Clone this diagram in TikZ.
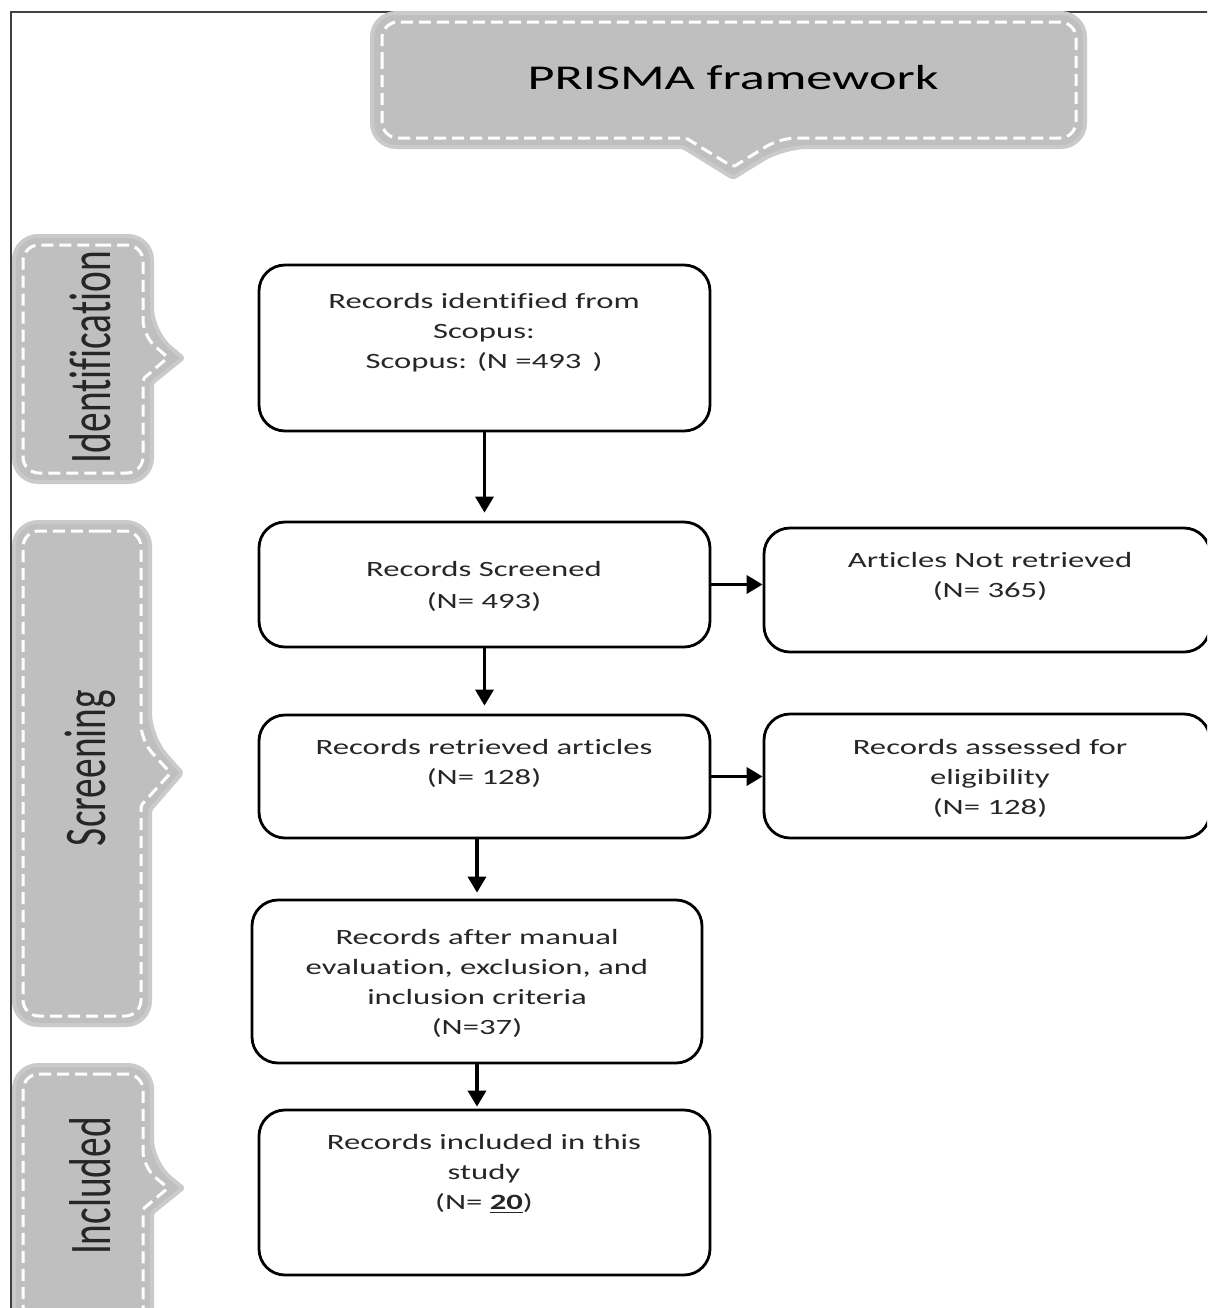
\documentclass[tikz,border=0pt]{standalone}
\usepackage{fontspec}
\setmainfont{Carlito}[FakeStretch=1.5,Ligatures=NoCommon]
\newfontfamily\tabfont{Carlito}[FakeStretch=0.667,Ligatures=NoCommon]
\usetikzlibrary{arrows.meta,positioning}
\definecolor{tabgray}{HTML}{BFBFBF}
\definecolor{tabedge}{HTML}{CACACA}
\definecolor{framegray}{HTML}{404040}
\definecolor{inkgray}{HTML}{262626}

\begin{document}
\begin{tikzpicture}[x=0.5pt,y=-0.5pt,
  tabbg/.style={fill=tabgray,draw=tabedge,line width=2pt,line join=round},
  tabdash/.style={draw=white,line width=1.5pt,dash pattern=on 6pt off 3pt},
  procbox/.style={draw=black,line width=1.4pt,rounded corners=13pt,inner sep=0pt},
  boxtext/.style={align=center,text=inkgray,font=\fontsize{10.9}{15}\selectfont},
  tabtext/.style={rotate=90,text=black!85,font=\tabfont\fontsize{29.5}{30}\selectfont},
  flow/.style={line width=1.8pt,-{Triangle[width=9pt,length=8pt]}}]
\clip (0,0) rectangle (1207,1308);
% frame
\draw[framegray,line width=1pt] (11,1320) -- (11,12) -- (1220,12);

% title tab
\draw[tabbg] (372,80) [rounded corners=12pt] -- (372,13) -- (1085,13) -- (1085,147) -- (783,147) [rounded corners=1pt] -- (733,178) -- (683,147) [rounded corners=12pt] -- (372,147) -- cycle;
\draw[tabdash] (382,80) [rounded corners=8pt] -- (382,22) -- (1076,22) -- (1076,138) -- (780,138) [rounded corners=1pt] -- (733,167) -- (686,138) [rounded corners=8pt] -- (382,138) -- cycle;
\node[font=\fontsize{17.4}{20}\selectfont] (title) at (733,78) {PRISMA framework};

% side tabs
\draw[tabbg] (83,236) [rounded corners=12pt] -- (152,236) -- (152,332) [rounded corners=1pt] -- (183,358) -- (152,383) [rounded corners=12pt] -- (152,482) -- (14,482) -- (14,236) -- cycle;
\draw[tabdash] (83,245) [rounded corners=8pt] -- (143,245) -- (143,336) [rounded corners=1pt] -- (168,357.5) -- (143,379) [rounded corners=8pt] -- (143,473) -- (23,473) -- (23,245) -- cycle;
\node[tabtext] (idlabel) at (90,357) {Identification};

\draw[tabbg] (83,522) [rounded corners=12pt] -- (150,522) -- (150,737) [rounded corners=1pt] -- (182,773) -- (150,810) [rounded corners=12pt] -- (150,1025) -- (14,1025) -- (14,522) -- cycle;
\draw[tabdash] (83,531) [rounded corners=8pt] -- (141,531) -- (141,740.5) [rounded corners=1pt] -- (170.5,773) -- (141,805.5) [rounded corners=8pt] -- (141,1016) -- (23,1016) -- (23,531) -- cycle;
\node[tabtext] (sclabel) at (90,768) {Screening};

\draw[tabbg] (83,1065) [rounded corners=12pt] -- (152,1065) -- (152,1163) [rounded corners=1pt] -- (183,1188) -- (152,1213) [rounded corners=12pt] -- (152,1340) -- (14,1340) -- (14,1065) -- cycle;
\draw[tabdash] (83,1074) [rounded corners=8pt] -- (143,1074) -- (143,1167) [rounded corners=1pt] -- (168,1188) -- (143,1209) [rounded corners=8pt] -- (143,1330) -- (23,1330) -- (23,1074) -- cycle;
\node[tabtext] (inlabel) at (90,1186) {Included};

% process boxes
\node[procbox,minimum width=225.5pt,minimum height=83pt] (b1) at (484.5,348) {};
\node[boxtext] (t1) at (484,333) {Records identified from\\Scopus:\\Scopus: (N =493 \,)};
\node[procbox,minimum width=225.5pt,minimum height=62.5pt] (b2) at (484.5,584.5) {};
\node[boxtext,font=\fontsize{10.9}{16}\selectfont] (t2) at (484,586) {Records Screened\\(N= 493)};
\node[procbox,minimum width=223pt,minimum height=62pt] (b3) at (987,590) {};
\node[boxtext] (t3) at (990,576) {Articles Not retrieved\\(N= 365)};
\node[procbox,minimum width=225.5pt,minimum height=61.5pt] (b4) at (484.5,776.5) {};
\node[boxtext] (t4) at (484,763) {Records retrieved articles\\(N= 128)};
\node[procbox,minimum width=223pt,minimum height=62pt] (b5) at (987,776) {};
\node[boxtext] (t5) at (990,778) {Records assessed for\\eligibility\\(N= 128)};
\node[procbox,minimum width=225pt,minimum height=81.5pt] (b6) at (477,981.5) {};
\node[boxtext] (t6) at (477,983) {Records after manual\\evaluation, exclusion, and\\inclusion criteria\\(N=37)};
\node[procbox,minimum width=225.5pt,minimum height=82.5pt] (b7) at (484.5,1192.5) {};
\node[boxtext] (t7) at (484,1174) {Records included in this\\study\\(N= \underline{\textbf{20}})};

% arrows
\draw[flow,shorten >=4pt] (b1.south) -- (b2.north);
\draw[flow,shorten >=4pt] (b2.south) -- (b4.north);
\draw[flow,shorten >=3pt] (b6.north |- b4.south) -- (b6.north);
\draw[flow,shorten >=1pt] (b6.south) -- (b6.south |- b7.north);
\draw[flow] (b2.east) -- (b2.east -| b3.west);
\draw[flow] (b4.east) -- (b4.east -| b5.west);
\end{tikzpicture}
\end{document}
